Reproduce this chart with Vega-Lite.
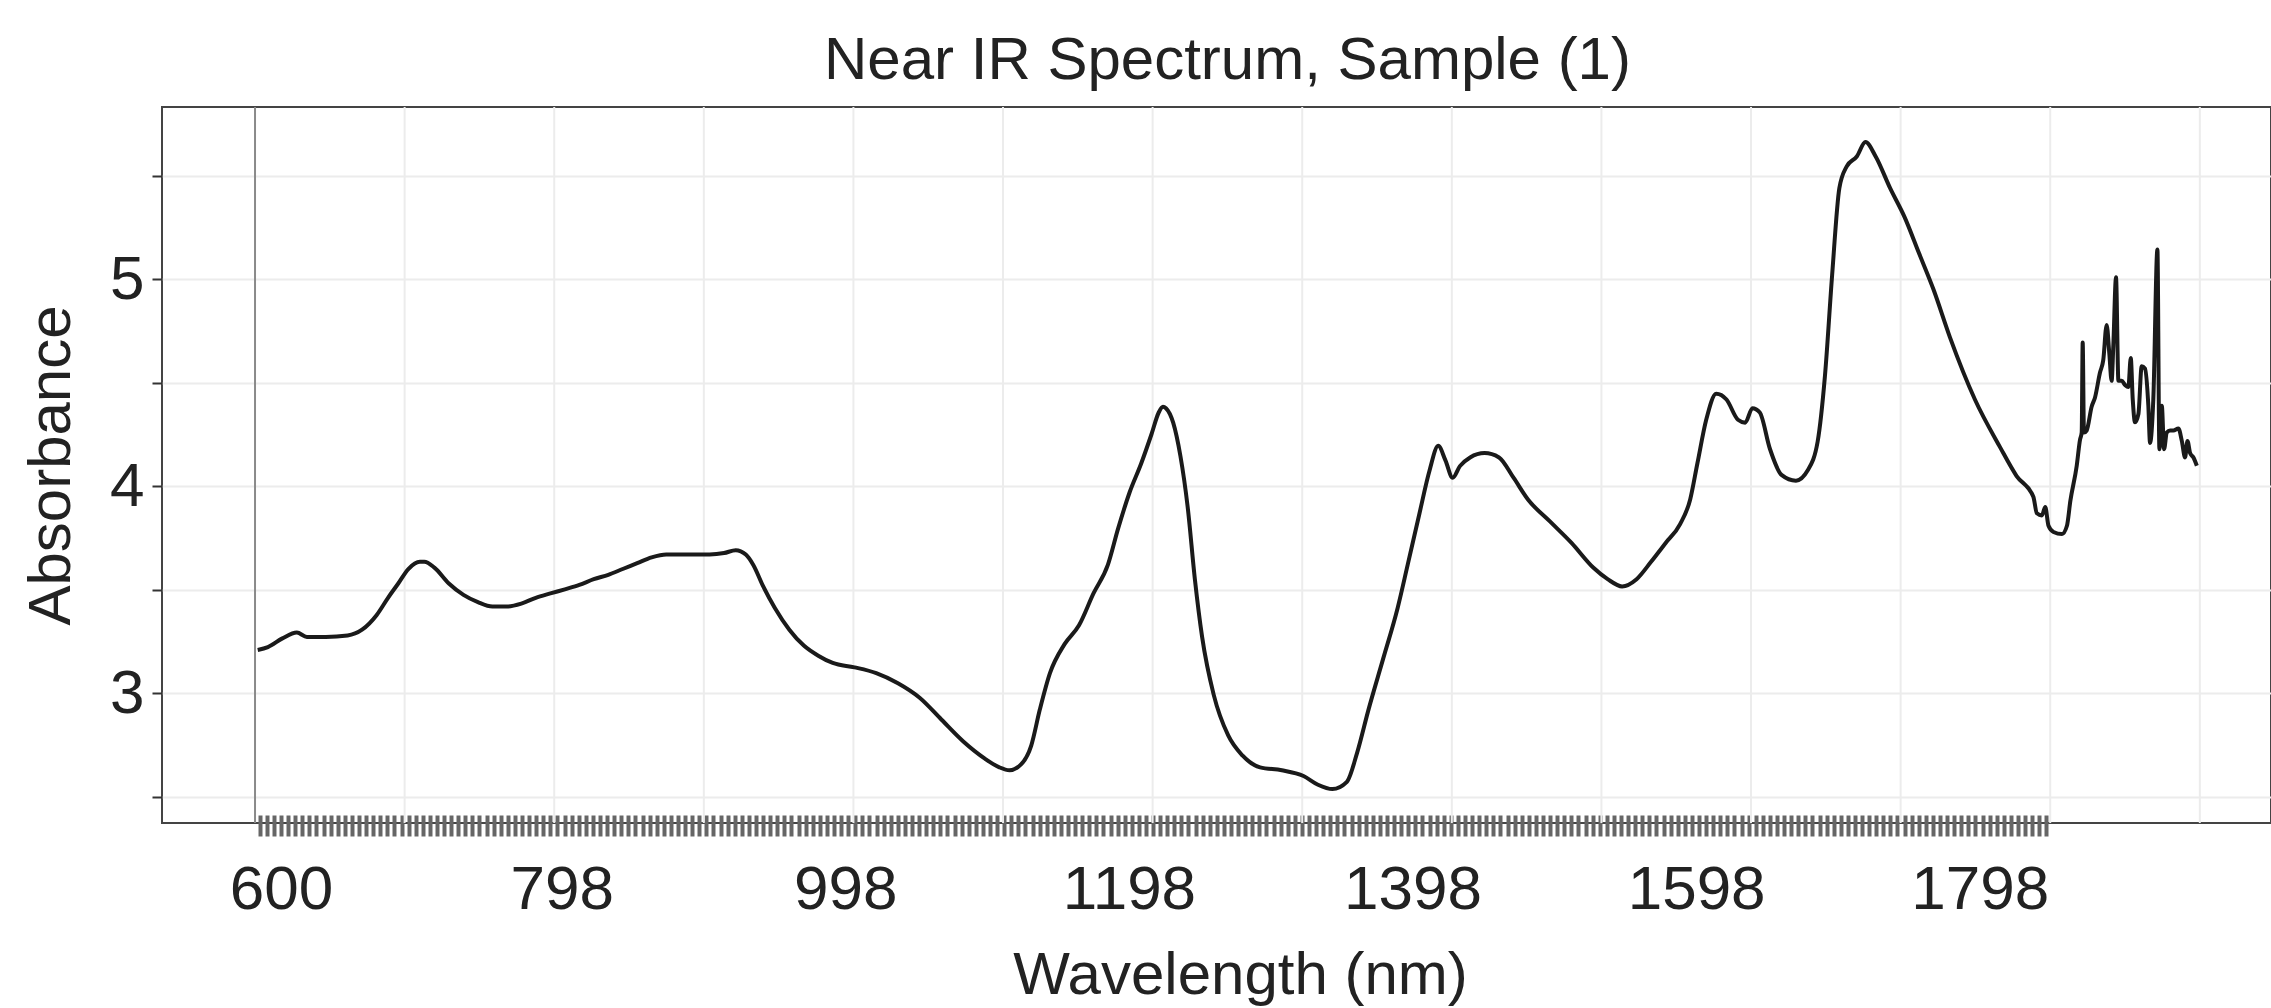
{
  "$schema": "https://vega.github.io/schema/vega-lite/v6.json",
  "width": 2109,
  "height": 716,
  "autosize": {"type": "none"},
  "padding": {"left": 162, "top": 107, "right": 0, "bottom": 185},
  "background": "white",
  "title": {"text": "Near IR Spectrum, Sample (1)", "anchor": "middle", "dx": 11, "dy": 60, "baseline": "alphabetic", "offset": 27, "fontSize": 60, "font": "Liberation Sans, Arial, sans-serif", "fontWeight": "normal", "color": "#222"},
  "config": {"view": {"stroke": "#444", "strokeWidth": 2}},
  "datasets": {
    "grid": [{"g": 687.2}, {"g": 792.7}, {"g": 898.2}, {"g": 1003.7}, {"g": 1109.2}, {"g": 1214.7}, {"g": 1320.2}, {"g": 1425.7}, {"g": 1531.2}, {"g": 1636.7}, {"g": 1742.2}, {"g": 1847.7}, {"g": 1953.2}],
    "frame": [{"g": 581.7}],
    "spectrum": [
      {"w":583.6,"a":3.21},{"w":590.8,"a":3.224},{"w":601.0,"a":3.266},{"w":611.2,"a":3.294},{"w":618.3,"a":3.273},{"w":631.6,"a":3.273},{"w":647.0,"a":3.28},{"w":657.2,"a":3.308},{"w":667.4,"a":3.378},{"w":675.5,"a":3.462},{"w":682.7,"a":3.531},{"w":689.8,"a":3.601},{"w":698.0,"a":3.636},{"w":701.1,"a":3.636},{"w":708.2,"a":3.608},{"w":718.4,"a":3.531},{"w":728.7,"a":3.476},{"w":738.9,"a":3.441},{"w":749.1,"a":3.42},{"w":759.3,"a":3.42},{"w":769.5,"a":3.434},{"w":779.7,"a":3.462},{"w":790.0,"a":3.483},{"w":800.2,"a":3.503},{"w":810.4,"a":3.524},{"w":820.6,"a":3.552},{"w":830.8,"a":3.573},{"w":841.0,"a":3.601},{"w":851.2,"a":3.629},{"w":861.4,"a":3.657},{"w":871.7,"a":3.671},{"w":881.9,"a":3.671},{"w":892.1,"a":3.671},{"w":902.3,"a":3.671},{"w":912.5,"a":3.678},{"w":920.7,"a":3.692},{"w":927.8,"a":3.671},{"w":933.0,"a":3.622},{"w":940.1,"a":3.517},{"w":948.3,"a":3.413},{"w":958.5,"a":3.308},{"w":968.7,"a":3.231},{"w":978.9,"a":3.182},{"w":989.1,"a":3.147},{"w":1004.5,"a":3.126},{"w":1019.8,"a":3.098},{"w":1035.1,"a":3.049},{"w":1050.4,"a":2.979},{"w":1065.7,"a":2.874},{"w":1081.0,"a":2.769},{"w":1096.4,"a":2.685},{"w":1106.6,"a":2.643},{"w":1113.8,"a":2.629},{"w":1121.9,"a":2.657},{"w":1129.1,"a":2.748},{"w":1135.2,"a":2.923},{"w":1142.3,"a":3.098},{"w":1152.6,"a":3.238},{"w":1162.8,"a":3.329},{"w":1173.0,"a":3.483},{"w":1183.2,"a":3.622},{"w":1190.4,"a":3.797},{"w":1198.5,"a":3.972},{"w":1206.7,"a":4.112},{"w":1213.9,"a":4.252},{"w":1219.0,"a":4.357},{"w":1222.0,"a":4.385},{"w":1224.1,"a":4.378},{"w":1229.2,"a":4.308},{"w":1234.3,"a":4.147},{"w":1239.4,"a":3.902},{"w":1244.5,"a":3.552},{"w":1249.6,"a":3.273},{"w":1257.8,"a":2.993},{"w":1268.0,"a":2.797},{"w":1278.2,"a":2.699},{"w":1290.5,"a":2.643},{"w":1305.8,"a":2.629},{"w":1321.1,"a":2.601},{"w":1331.3,"a":2.559},{"w":1341.5,"a":2.538},{"w":1351.7,"a":2.573},{"w":1358.9,"a":2.713},{"w":1367.0,"a":2.923},{"w":1377.3,"a":3.168},{"w":1387.5,"a":3.413},{"w":1394.6,"a":3.622},{"w":1402.8,"a":3.867},{"w":1410.0,"a":4.077},{"w":1416.1,"a":4.196},{"w":1421.2,"a":4.126},{"w":1426.3,"a":4.042},{"w":1431.4,"a":4.098},{"w":1438.6,"a":4.14},{"w":1448.8,"a":4.161},{"w":1459.0,"a":4.14},{"w":1469.2,"a":4.042},{"w":1479.4,"a":3.937},{"w":1494.7,"a":3.832},{"w":1510.1,"a":3.727},{"w":1525.4,"a":3.608},{"w":1535.6,"a":3.552},{"w":1545.8,"a":3.517},{"w":1556.0,"a":3.552},{"w":1566.2,"a":3.636},{"w":1576.5,"a":3.727},{"w":1586.7,"a":3.818},{"w":1593.8,"a":3.937},{"w":1598.9,"a":4.112},{"w":1605.1,"a":4.322},{"w":1612.2,"a":4.448},{"w":1619.4,"a":4.42},{"w":1627.5,"a":4.322},{"w":1632.6,"a":4.308},{"w":1637.7,"a":4.378},{"w":1642.9,"a":4.357},{"w":1650.0,"a":4.182},{"w":1658.2,"a":4.056},{"w":1668.4,"a":4.028},{"w":1676.6,"a":4.077},{"w":1683.7,"a":4.217},{"w":1688.8,"a":4.531},{"w":1693.9,"a":5.021},{"w":1699.0,"a":5.441},{"w":1704.1,"a":5.545},{"w":1711.3,"a":5.594},{"w":1717.4,"a":5.664},{"w":1724.6,"a":5.594},{"w":1734.8,"a":5.441},{"w":1745.0,"a":5.301},{"w":1755.2,"a":5.126},{"w":1765.4,"a":4.951},{"w":1777.0,"a":4.72},{"w":1794.6,"a":4.42},{"w":1812.3,"a":4.19},{"w":1824.0,"a":4.05},{"w":1835.8,"a":3.95},{"w":1838.3,"a":3.87},{"w":1841.8,"a":3.86},{"w":1844.2,"a":3.9},{"w":1846.5,"a":3.81},{"w":1850.0,"a":3.78},{"w":1856.0,"a":3.77},{"w":1859.5,"a":3.81},{"w":1861.9,"a":3.93},{"w":1866.4,"a":4.1},{"w":1868.7,"a":4.225},{"w":1869.9,"a":4.26},{"w":1870.6,"a":4.695},{"w":1871.5,"a":4.26},{"w":1873.4,"a":4.27},{"w":1876.9,"a":4.385},{"w":1879.3,"a":4.43},{"w":1882.8,"a":4.55},{"w":1885.1,"a":4.61},{"w":1887.5,"a":4.78},{"w":1889.4,"a":4.64},{"w":1891.0,"a":4.51},{"w":1892.2,"a":4.68},{"w":1894.1,"a":5.01},{"w":1895.8,"a":4.51},{"w":1898.1,"a":4.51},{"w":1900.5,"a":4.49},{"w":1902.8,"a":4.48},{"w":1904.5,"a":4.62},{"w":1905.9,"a":4.42},{"w":1907.5,"a":4.31},{"w":1909.9,"a":4.35},{"w":1912.2,"a":4.58},{"w":1914.5,"a":4.57},{"w":1916.9,"a":4.39},{"w":1918.1,"a":4.21},{"w":1920.4,"a":4.42},{"w":1923.3,"a":5.145},{"w":1924.7,"a":4.18},{"w":1926.4,"a":4.39},{"w":1928.0,"a":4.18},{"w":1929.9,"a":4.26},{"w":1932.2,"a":4.27},{"w":1934.6,"a":4.27},{"w":1938.1,"a":4.28},{"w":1940.5,"a":4.22},{"w":1942.8,"a":4.14},{"w":1944.5,"a":4.22},{"w":1946.4,"a":4.16},{"w":1948.7,"a":4.14},{"w":1951.1,"a":4.1}
    ]
  },
  "layer": [
    {
      "data": {"name": "grid"},
      "mark": {"type": "rule", "color": "#ececec", "strokeWidth": 2},
      "encoding": {
        "x": {"field": "g", "type": "quantitative",
          "scale": {"domain": [516.1, 2003.4], "nice": false, "zero": false},
          "axis": {"orient": "bottom", "values": [600, 798, 998, 1198, 1398, 1598, 1798], "format": "d", "ticks": false, "domain": false, "grid": false,
            "labelFontSize": 62, "labelFont": "Liberation Sans, Arial, sans-serif", "labelColor": "#222", "labelPadding": 36, "labelOverlap": false, "labelFlush": false,
            "title": "Wavelength (nm)", "titleFontSize": 60, "titleFont": "Liberation Sans, Arial, sans-serif", "titleFontWeight": "normal", "titleColor": "#222", "titleX": 1078, "titleY": 170, "titleBaseline": "alphabetic"}
        }
      }
    },
    {
      "data": {"name": "frame"},
      "mark": {"type": "rule", "color": "#8a8a8a", "strokeWidth": 2},
      "encoding": {"x": {"field": "g", "type": "quantitative", "axis": null}}
    },
    {
      "data": {"name": "spectrum"},
      "mark": {"type": "line", "color": "#1a1a1a", "strokeWidth": 4, "interpolate": "monotone"},
      "encoding": {
        "x": {"field": "w", "type": "quantitative",
          "axis": {"orient": "bottom", "tickCount": 300, "labels": false, "domain": false, "grid": false, "title": null, "offset": -8, "tickSize": 21, "tickWidth": 4,
            "tickColor": {"condition": {"test": "datum.value < 582 || datum.value > 1849", "value": "transparent"}, "value": "#666666"}}
        },
        "y": {"field": "a", "type": "quantitative",
          "scale": {"domain": [2.374, 5.833], "nice": false, "zero": false},
          "axis": {"values": [2.5, 3, 3.5, 4, 4.5, 5, 5.5], "labelExpr": "datum.value % 1 == 0 ? '' + datum.value : ''", "grid": true, "gridColor": "#ececec", "gridWidth": 2, "domain": false,
            "tickSize": 10, "tickColor": "#333", "tickWidth": 2, "labelFontSize": 62, "labelPadding": 8, "labelColor": "#222", "labelFont": "Liberation Sans, Arial, sans-serif", "labelOverlap": false,
            "title": "Absorbance", "titleFontSize": 60, "titleFontWeight": "normal", "titleColor": "#222", "titleFont": "Liberation Sans, Arial, sans-serif", "titleX": -111, "titleBaseline": "middle"}
        }
      }
    }
  ],
  "resolve": {"axis": {"x": "independent"}}
}
